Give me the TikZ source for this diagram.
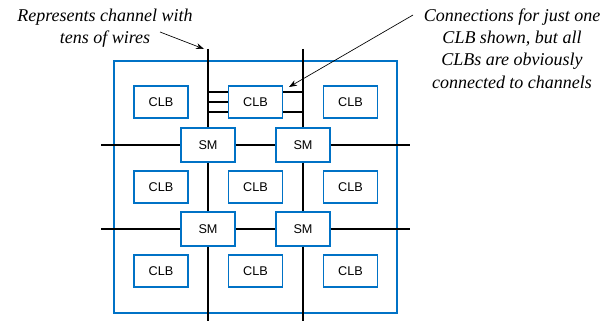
\documentclass[tikz,border=0pt]{standalone}
\usepackage{fontspec}
\setmainfont{Liberation Serif}
\setsansfont{Liberation Sans}
\usetikzlibrary{arrows.meta}

\definecolor{fpgablue}{RGB}{0,114,198}

\tikzset{every picture/.style={line width=0.75pt}}
\tikzset{
  clb/.style={draw=fpgablue, line width=1.1pt, fill=white, minimum width=40.5pt,
    minimum height=24pt, inner sep=0pt, font=\sffamily\fontsize{9.5}{11}\selectfont},
  sm/.style={clb, minimum height=25.5pt},
  fabric/.style={draw=fpgablue, line width=0.9pt, minimum width=212.25pt,
    minimum height=189pt, inner sep=0pt},
  channel/.style={line width=1.7pt},
  wire/.style={line width=0.9pt},
  note/.style={font=\itshape\fontsize{13.5}{16.75}\selectfont, align=center, inner sep=0.75pt},
  pointer/.style={-{Stealth[length=6pt,width=4.5pt]}, line width=0.5pt}
}

\begin{document}
\begin{tikzpicture}[x=0.75pt,y=0.75pt,yscale=-1,xscale=1]
\useasboundingbox (0,0) rectangle (609,321);

% Outline of the fabric
\node [fabric] (fabric) at (255.5,187) {};

% Channel ends
\coordinate (chLtop) at (208,49);
\coordinate (chLbot) at (208,321);
\coordinate (chRtop) at (303,49);
\coordinate (chRbot) at (303,321);
\coordinate (chTleft) at (101,145);
\coordinate (chTright) at (410,145);
\coordinate (chBleft) at (101,229);
\coordinate (chBright) at (410,229);

% Switch matrices
\node [sm] (smTL) at (208,145) {SM};
\node [sm] (smTR) at (303,145) {SM};
\node [sm] (smBL) at (208,229) {SM};
\node [sm] (smBR) at (303,229) {SM};

% Logic blocks
\node [clb] (clbTL) at (161,102) {CLB};
\node [clb] (clbTM) at (255.5,102) {CLB};
\node [clb] (clbTR) at (350.5,102) {CLB};
\node [clb] (clbML) at (161,187) {CLB};
\node [clb] (clbMM) at (255.5,187) {CLB};
\node [clb] (clbMR) at (350.5,187) {CLB};
\node [clb] (clbBL) at (161,271) {CLB};
\node [clb] (clbBM) at (255.5,271) {CLB};
\node [clb] (clbBR) at (350.5,271) {CLB};

% Vertical channels
\draw [channel] (chLtop) -- (smTL.north);
\draw [channel] (smTL.south) -- (smBL.north);
\draw [channel] (smBL.south) -- (chLbot);
\draw [channel] (chRtop) -- (smTR.north);
\draw [channel] (smTR.south) -- (smBR.north);
\draw [channel] (smBR.south) -- (chRbot);

% Horizontal channels
\draw [channel] (chTleft) -- (smTL.west);
\draw [channel] (smTL.east) -- (smTR.west);
\draw [channel] (smTR.east) -- (chTright);
\draw [channel] (chBleft) -- (smBL.west);
\draw [channel] (smBL.east) -- (smBR.west);
\draw [channel] (smBR.east) -- (chBright);

% Connections of one CLB
\foreach \dy in {-7.5,0,7.5}
  \draw [wire] ([yshift=\dy pt]clbTM.west) -- ([yshift=\dy pt]clbTM.west -| chLtop);
\foreach \dy in {-7.5,7.5}
  \draw [wire] ([yshift=\dy pt]clbTM.east) -- ([yshift=\dy pt]clbTM.east -| chRtop);

% Text Node
\node [note] (noteChan) at (105,28) {Represents channel with\\tens of wires};
% Text Node
\node [note] (noteConn) at (512,48.5) {Connections for just one\\CLB shown, but all\\CLBs are obviously\\connected to channels};

% Pointers
\coordinate (ptrChanFrom) at (160,32);
\coordinate (ptrChanTo) at (204,49);
\coordinate (ptrConnFrom) at (413,15);
\coordinate (ptrConnTo) at (289,87);
\draw [pointer] (ptrChanFrom) -- (ptrChanTo);
\draw [pointer] (ptrConnFrom) -- (ptrConnTo);

\end{tikzpicture}
\end{document}
